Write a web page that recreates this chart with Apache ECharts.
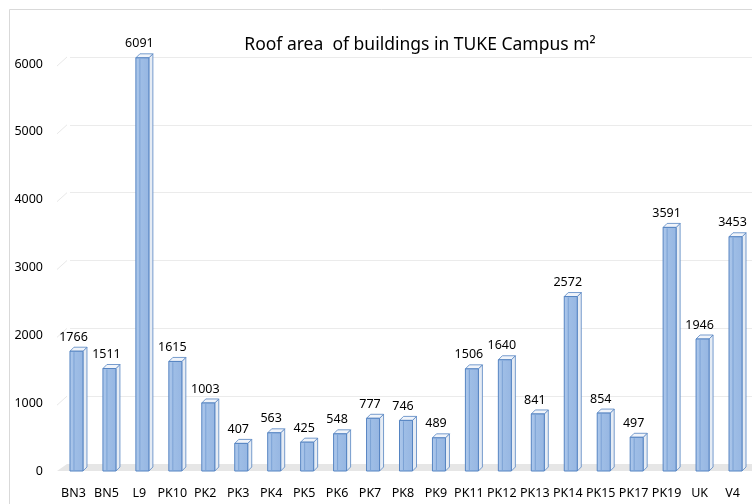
<!DOCTYPE html>
<html>
<head>
<meta charset="utf-8">
<script src="https://cdn.jsdelivr.net/npm/echarts@6/dist/echarts.min.js"></script>
<style>html,body{margin:0;padding:0;background:#fff;}#c{width:752px;height:504px;}</style>
</head>
<body>
<div id="c"></div>
<script>
var categories = ['BN3','BN5','L9','PK10','PK2','PK3','PK4','PK5','PK6','PK7','PK8','PK9','PK11','PK12','PK13','PK14','PK15','PK17','PK19','UK','V4'];
var roofArea = [1766,1511,6091,1615,1003,407,563,425,548,777,746,489,1506,1640,841,2572,854,497,3591,1946,3453];
var yTicks = [0,1000,2000,3000,4000,5000,6000];
var titleText = 'Roof area  of buildings in TUKE Campus m\u00B2';

var FONT = '"Noto Sans"';
var DX = 10, DY = -7;      // floor / back wall depth
var BW = 13, BDX = 4, BDY = -4; // bar size and depth

var chart = echarts.init(document.getElementById('c'));

function renderBar(params, api) {
  var idx = api.value(0), v = api.value(1);
  var p = api.coord([idx, v]);
  var p0 = api.coord([idx, 0]);
  var cx = p[0], top = p[1], y0 = p0[1];
  var l = cx - BW / 2, r = cx + BW / 2;
  var stroke = '#5584c2';
  return {
    type: 'group',
    children: [
      { type: 'polygon', shape: { points: [[r, top], [r + BDX, top + BDY], [r + BDX, y0 + BDY], [r, y0]] },
        style: { fill: '#e6ecf4', stroke: stroke, lineWidth: 0.8 } },
      { type: 'polygon', shape: { points: [[l, top], [l + BDX, top + BDY], [r + BDX, top + BDY], [r, top]] },
        style: { fill: '#f0f4fa', stroke: stroke, lineWidth: 0.8 } },
      { type: 'rect', shape: { x: l, y: top, width: BW, height: y0 - top },
        style: { fill: new echarts.graphic.LinearGradient(0, 0, 1, 0, [
          { offset: 0, color: '#afc9ec' }, { offset: 0.35, color: '#9fbee6' }, { offset: 1, color: '#96b6e2' }]),
          stroke: stroke, lineWidth: 1 } },
      { type: 'line', shape: { x1: l + 4, y1: top + 1, x2: l + 4, y2: y0 - 1 },
        style: { stroke: '#729ad0', lineWidth: 0.8 } },
      { type: 'text', style: { x: cx - 3, y: top - 14, text: String(v), fill: '#000',
        font: '12.5px ' + FONT, align: 'center', verticalAlign: 'middle' } }
    ]
  };
}

function renderFloor(params, api) {
  var cs = params.coordSys;
  var y0 = api.coord([0, 0])[1];
  var x0 = cs.x - 3;
  return { type: 'polygon', z2: -10,
    shape: { points: [[x0, y0], [760, y0], [760, y0 + DY], [x0 + DX, y0 + DY]] },
    style: { fill: '#e6e6e6' } };
}

function renderDiag(params, api) {
  var cs = params.coordSys;
  var v = api.value(0);
  var y = api.coord([0, v])[1];
  var x0 = cs.x - 3;
  return { type: 'line', shape: { x1: x0, y1: y + 2, x2: x0 + DX, y2: y + DY },
    style: { stroke: '#e8e8e8', lineWidth: 1 } };
}

var option = {
  animation: false,
  backgroundColor: '#fff',
  textStyle: { fontFamily: FONT },
  graphic: [
    { type: 'rect', shape: { x: 9.5, y: 9.5, width: 800, height: 600 }, style: { fill: 'none', stroke: '#d9d9d9', lineWidth: 1 }, z: -20 },
    { type: 'text', x: 420, y: 45, style: { text: titleText, font: '17.5px ' + FONT, fill: '#000', align: 'center', verticalAlign: 'middle' } }
  ],
  grid: [
    { left: 60, right: 0, top: 64, bottom: 33 },
    { left: 60 + DX, right: 0, top: 64 + DY, bottom: 33 - DY }
  ],
  xAxis: [
    { type: 'category', gridIndex: 0, data: categories, axisLine: { show: false }, axisTick: { show: false },
      axisLabel: { interval: 0, color: '#000', fontSize: 12.5, fontFamily: FONT, margin: 16, padding: [0, 6, 0, 0] } },
    { type: 'category', gridIndex: 1, data: categories, show: false }
  ],
  yAxis: [
    { type: 'value', gridIndex: 0, min: 0, max: 6000, interval: 1000, splitLine: { show: false },
      axisLine: { show: false }, axisTick: { show: false },
      axisLabel: { color: '#000', fontSize: 12.5, fontFamily: FONT, margin: 17, formatter: function (v) { return String(v); } } },
    { type: 'value', gridIndex: 1, min: 0, max: 6000, interval: 1000,
      axisLine: { show: false }, axisTick: { show: false }, axisLabel: { show: false },
      splitLine: { show: true, lineStyle: { color: '#ebebeb', width: 1 } } }
  ],
  series: [
    { type: 'custom', xAxisIndex: 0, yAxisIndex: 0, renderItem: renderFloor, data: [[0]], z: 1, silent: true },
    { type: 'custom', xAxisIndex: 0, yAxisIndex: 0, renderItem: renderDiag, data: yTicks.slice(1).map(function (t) { return [t]; }), z: 1, silent: true,
      encode: { y: 0 } },
    { type: 'custom', xAxisIndex: 0, yAxisIndex: 0, renderItem: renderBar, z: 5,
      data: roofArea.map(function (v, i) { return [i, v]; }), encode: { x: 0, y: 1 } }
  ]
};
chart.setOption(option);
</script>
</body>
</html>
